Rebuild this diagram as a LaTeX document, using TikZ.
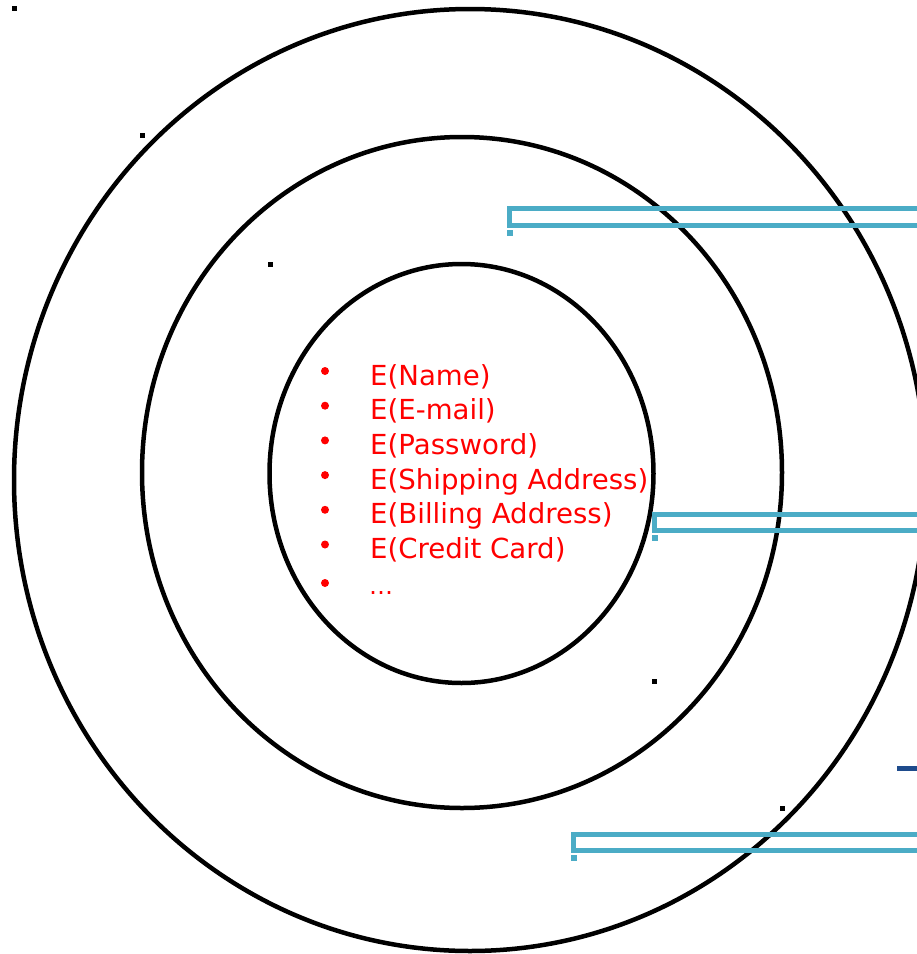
\documentclass[tikz,border=0pt]{standalone}
\usepackage{fontspec}
\setmainfont{DejaVu Sans}
\definecolor{barblue}{RGB}{75,172,198}
\definecolor{darkbar}{RGB}{30,75,140}
\definecolor{txtred}{RGB}{255,0,0}
\tikzset{
  ring/.style={draw=black, line width=4.5pt},
  bar/.style={draw=barblue, line width=5pt},
  barsq/.style={fill=barblue},
  blk/.style={fill=black},
  item/.style={anchor=base west, inner sep=0pt, text=txtred, font=\fontsize{27.6pt}{34pt}\selectfont},
  bul/.style={circle, fill=txtred, inner sep=0pt, minimum size=8pt}
}
\begin{document}
\begin{tikzpicture}[x=1pt,y=-1pt]
\useasboundingbox (0,0) rectangle (917,954);
\clip (0,0) rectangle (917,954);
% rings
\draw[ring] (470,480) ellipse [x radius=456, y radius=471];
\draw[ring] (462,472.5) ellipse [x radius=320, y radius=335.5];
\draw[ring] (461.5,473.5) ellipse [x radius=192, y radius=209.5];
% items
\foreach \t [count=\i from 0] in {E(Name),E(E-mail),E(Password),E(Shipping Address),E(Billing Address),E(Credit Card)}{
  \node[item] (it\i) at (370,{385+34.7*\i}) {\t};
  \node[bul] (b\i) at (325,{371+34.7*\i}) {};
}
\node[item] (it6) at (369,594) {\fontsize{24pt}{26pt}\selectfont\ldots};
\node[bul] (b6) at (325,583) {};
% blue bars
\draw[bar] (940,208.5) -- (509.5,208.5) -- (509.5,225.5) -- (940,225.5);
\fill[barsq] (507,230) rectangle (513,236);
\draw[bar] (940,514.5) -- (654.5,514.5) -- (654.5,530.5) -- (940,530.5);
\fill[barsq] (652,535) rectangle (658,541);
\draw[bar] (940,834.5) -- (573.5,834.5) -- (573.5,850.5) -- (940,850.5);
\fill[barsq] (571,855) rectangle (577,861);
\fill[darkbar] (897,766) rectangle (917,770.5);
% black dots
\fill[blk] (12,6) rectangle (17,11);
\fill[blk] (140,133) rectangle (145,138);
\fill[blk] (268,262) rectangle (273,267);
\fill[blk] (652,679) rectangle (657,684);
\fill[blk] (780,806) rectangle (785,811);
\end{tikzpicture}
\end{document}
